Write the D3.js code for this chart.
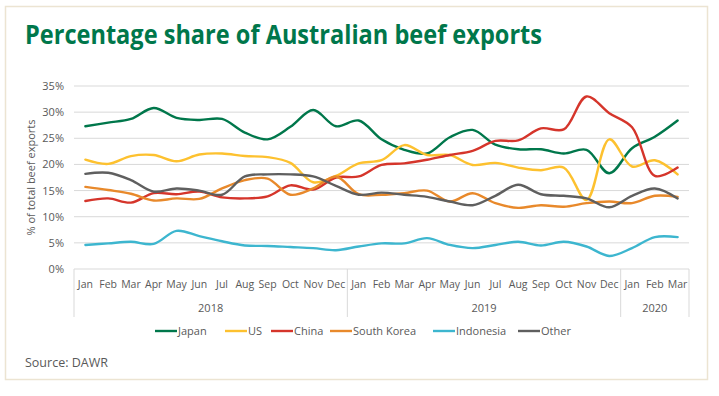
<!DOCTYPE html>
<html>
<head>
<meta charset="utf-8">
<script src="https://cdn.jsdelivr.net/npm/d3@7"></script>
<style>
  body { margin: 0; background: #fff; }
  svg { display: block; font-family: "Open Sans", "Noto Sans", sans-serif; }
</style>
</head>
<body>
<script>
const months = ['Jan', 'Feb', 'Mar', 'Apr', 'May', 'Jun', 'Jul', 'Aug', 'Sep', 'Oct', 'Nov', 'Dec',
  'Jan', 'Feb', 'Mar', 'Apr', 'May', 'Jun', 'Jul', 'Aug', 'Sep', 'Oct', 'Nov', 'Dec',
  'Jan', 'Feb', 'Mar'];
const years = [
  { label: '2018', start: 0, end: 12 },
  { label: '2019', start: 12, end: 24 },
  { label: '2020', start: 24, end: 27 }
];
const yTicks = [0, 5, 10, 15, 20, 25, 30, 35];

const japan = [27.3, 28.0, 28.7, 30.8, 28.9, 28.5, 28.7, 26.1, 24.8, 27.2, 30.4, 27.3,
  28.4, 24.8, 22.8, 22.1, 25.2, 26.6, 23.8, 22.9, 22.9, 22.1, 22.8, 18.3, 23.1, 25.3, 28.4];
const us = [20.9, 20.1, 21.6, 21.8, 20.6, 21.9, 22.1, 21.6, 21.4, 20.3, 16.6, 17.8,
  20.2, 20.8, 23.7, 21.8, 21.8, 19.9, 20.3, 19.4, 18.9, 19.4, 13.2, 24.8, 19.6, 20.8, 18.1];
const china = [13.0, 13.5, 12.7, 14.5, 14.3, 14.8, 13.7, 13.5, 13.9, 16.0, 15.2, 17.5,
  17.7, 19.9, 20.2, 20.9, 21.8, 22.6, 24.5, 24.6, 26.9, 26.7, 33.0, 29.8, 27.1, 17.8, 19.4];
const southKorea = [15.7, 15.1, 14.4, 13.1, 13.5, 13.4, 15.4, 17.0, 17.3, 14.2, 15.4, 17.7,
  14.3, 14.2, 14.5, 15.0, 12.9, 14.5, 12.6, 11.7, 12.2, 11.9, 12.6, 12.9, 12.6, 14.0, 13.8];
const indonesia = [4.6, 4.9, 5.2, 4.8, 7.3, 6.3, 5.3, 4.5, 4.4, 4.2, 4.0, 3.6,
  4.3, 4.9, 4.9, 5.9, 4.6, 4.0, 4.6, 5.2, 4.5, 5.2, 4.3, 2.5, 4.0, 6.1, 6.1];
const other = [18.2, 18.4, 17.0, 14.8, 15.4, 15.0, 14.2, 17.7, 18.1, 18.1, 17.7, 15.9,
  14.2, 14.6, 14.2, 13.8, 12.9, 12.2, 14.0, 16.1, 14.3, 14.0, 13.5, 11.8, 14.0, 15.4, 13.5];

const seriesNames = ['Japan', 'US', 'China', 'South Korea', 'Indonesia', 'Other'];
const seriesValues = [japan, us, china, southKorea, indonesia, other];
const colors = ['#00774b', '#fdc12f', '#d5352b', '#e8892b', '#3db6cf', '#5f5f5f'];

const width = 719;
const height = 396;
const margin = { top: 86, right: 30, bottom: 127, left: 74 };

const svg = d3.select('body').append('svg')
  .attr('width', width)
  .attr('height', height);

// outer frame
svg.append('rect')
  .attr('x', 5.5).attr('y', 6.5)
  .attr('width', 702).attr('height', 373)
  .attr('fill', '#fff')
  .attr('stroke', '#ece4d2')
  .attr('stroke-width', 1.5);

svg.append('text')
  .attr('x', 25).attr('y', 44)
  .attr('fill', '#00774b')
  .attr('font-size', 27)
  .attr('font-weight', 700)
  .attr('textLength', 517)
  .attr('lengthAdjust', 'spacingAndGlyphs')
  .text('Percentage share of Australian beef exports');

const x = d3.scaleBand()
  .domain(d3.range(months.length))
  .range([margin.left, width - margin.right])
  .padding(0);

const y = d3.scaleLinear()
  .domain([0, 35])
  .range([height - margin.bottom, margin.top]);

// gridlines
svg.append('g')
  .selectAll('line')
  .data(yTicks.slice(1))
  .join('line')
    .attr('x1', margin.left).attr('x2', width - margin.right)
    .attr('y1', d => y(d)).attr('y2', d => y(d))
    .attr('stroke', '#d9d9d9')
    .attr('stroke-width', 1);

// y axis labels
const yAxis = d3.axisLeft(y)
  .tickValues(yTicks)
  .tickFormat(d => d + '%')
  .tickSize(0)
  .tickPadding(10);

svg.append('g')
  .attr('transform', `translate(${margin.left},0)`)
  .call(yAxis)
  .call(g => g.select('.domain').remove())
  .call(g => g.selectAll('text')
    .attr('fill', '#595959')
    .attr('font-size', 11)
    .attr('font-family', '"Open Sans", sans-serif'));

svg.append('text')
  .attr('transform', `translate(35,${y(17.5)}) rotate(-90)`)
  .attr('text-anchor', 'middle')
  .attr('fill', '#595959')
  .attr('font-size', 11)
  .text('% of total beef exports');

// x axis: months
const x0 = y(0);
svg.append('line')
  .attr('x1', margin.left).attr('x2', width - margin.right)
  .attr('y1', x0).attr('y2', x0)
  .attr('stroke', '#d9d9d9');

svg.append('g')
  .selectAll('text')
  .data(months)
  .join('text')
    .attr('x', (d, i) => x(i) + x.bandwidth() / 2)
    .attr('y', x0 + 19)
    .attr('text-anchor', 'middle')
    .attr('fill', '#595959')
    .attr('font-size', 10.5)
    .text(d => d);

// year groups
const sepEdges = [0, 12, 24];
svg.append('g')
  .selectAll('line')
  .data(sepEdges.concat([months.length]))
  .join('line')
    .attr('x1', d => d === months.length ? x.range()[1] : x(d))
    .attr('x2', d => d === months.length ? x.range()[1] : x(d))
    .attr('y1', x0).attr('y2', x0 + 48)
    .attr('stroke', '#d9d9d9');

svg.append('g')
  .selectAll('text')
  .data(years)
  .join('text')
    .attr('x', d => (x(d.start) + (d.end === months.length ? x.range()[1] : x(d.end))) / 2)
    .attr('y', x0 + 43)
    .attr('text-anchor', 'middle')
    .attr('fill', '#595959')
    .attr('font-size', 11)
    .text(d => d.label);

// lines
const line = d3.line()
  .x((d, i) => x(i) + x.bandwidth() / 2)
  .y(d => y(d))
  .curve(d3.curveCatmullRom.alpha(0.5));

svg.append('g')
  .selectAll('path')
  .data(seriesValues)
  .join('path')
    .attr('d', d => line(d))
    .attr('fill', 'none')
    .attr('stroke', (d, i) => colors[i])
    .attr('stroke-width', 2.4)
    .attr('stroke-linecap', 'round');

// legend
const legendX = [155, 225, 271, 330, 433, 518];
const legend = svg.append('g')
  .selectAll('g')
  .data(seriesNames)
  .join('g')
    .attr('transform', (d, i) => `translate(${legendX[i]},331)`);

legend.append('line')
  .attr('x1', 0).attr('x2', 22)
  .attr('stroke', (d, i) => colors[i])
  .attr('stroke-width', 2.4);

legend.append('text')
  .attr('x', 23).attr('y', 4)
  .attr('fill', '#595959')
  .attr('font-size', 11)
  .text(d => d);

svg.append('text')
  .attr('x', 25).attr('y', 367)
  .attr('fill', '#595959')
  .attr('font-size', 12.5)
  .text('Source: DAWR');
</script>
</body>
</html>
